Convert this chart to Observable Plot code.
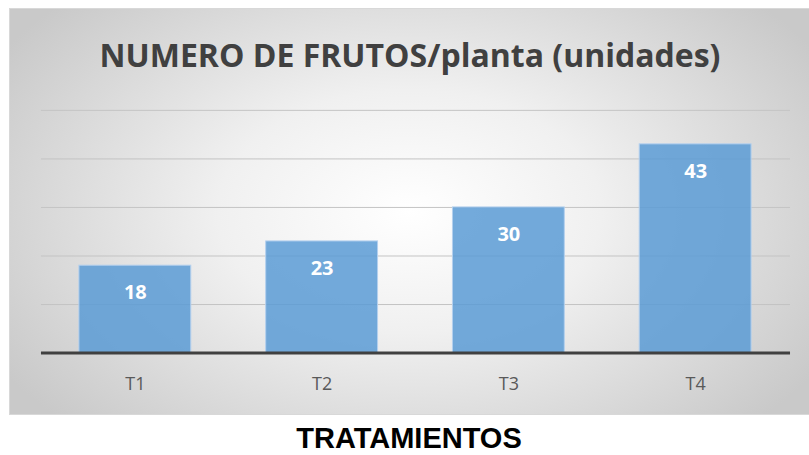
<!DOCTYPE html>
<html>
<head>
<meta charset="utf-8">
<script src="https://cdn.jsdelivr.net/npm/d3@7"></script>
<script src="https://cdn.jsdelivr.net/npm/@observablehq/plot@0.6"></script>
<style>
  html, body { margin: 0; padding: 0; background: #fff; width: 809px; height: 455px; overflow: hidden; }
  #box { position: absolute; left: 9px; top: 8px; width: 800px; height: 407px;
         background: radial-gradient(ellipse 60% 75% at 50% 50%, #ffffff 0%, #f0f0f0 40%, #c9c9c9 100%);
         border-top: 1px solid #d8d8d8; border-left: 1px solid #d8d8d8; border-bottom: 1px solid #d8d8d8; box-sizing: border-box; }
  #title { position: absolute; left: 0; top: 24px; width: 800px; text-align: center;
           font-family: "Open Sans", sans-serif; font-weight: bold; font-size: 32px; color: #404040; }
  #chart { position: absolute; left: 0; top: 0; }
  #xlabel { position: absolute; left: 9px; top: 422px; width: 800px; text-align: center;
            font-family: "Liberation Sans", Arial, sans-serif; font-weight: bold; font-size: 29px; color: #000; }
</style>
</head>
<body>
<div id="box">
  <div id="title">NUMERO DE FRUTOS/planta (unidades)</div>
  <div id="chart"></div>
</div>
<div id="xlabel">TRATAMIENTOS</div>
<script>
const categories = ["T1", "T2", "T3", "T4"];
const values = [18, 23, 30, 43];
const gridTicks = [10, 20, 30, 40, 50];

const data = categories.map((c, i) => ({ cat: c, val: values[i] }));

const chart = Plot.plot({
  width: 800,
  height: 407,
  marginLeft: 31,
  marginRight: 19,
  marginTop: 101,
  marginBottom: 63,
  style: { background: "transparent", overflow: "visible" },
  x: { domain: categories, paddingInner: 0.4, paddingOuter: 0.2, label: null },
  y: { domain: [0, 50], axis: null },
  marks: [
    Plot.ruleY(gridTicks, { stroke: "#c4c4c4", strokeWidth: 1 }),
    Plot.barY(data, { x: "cat", y: "val", fill: "#5b9bd5", fillOpacity: 0.85, stroke: "#b4d0ee", strokeWidth: 1 }),
    Plot.text(data, { x: "cat", y: "val", text: d => String(d.val), dy: 27, fill: "white",
      fontSize: 20, fontWeight: "bold", fontFamily: "Open Sans, sans-serif" }),
    Plot.ruleY([0], { stroke: "#404040", strokeWidth: 3 }),
    Plot.axisX({ tickSize: 0, tickPadding: 24, fontSize: 18, fill: "#595959",
      fontFamily: "Open Sans, sans-serif", label: null })
  ]
});
document.getElementById("chart").appendChild(chart);
</script>
</body>
</html>
